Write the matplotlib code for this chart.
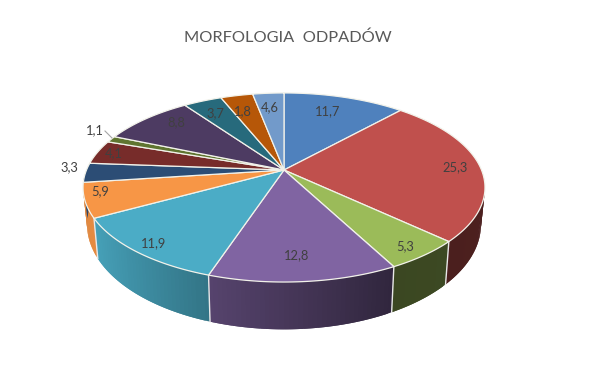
import numpy as np
import matplotlib
matplotlib.use('Agg')
import matplotlib.pyplot as plt

# Drawn shares of each slice, clockwise from 12 o'clock
VALUES = [11.7, 25.3, 5.3, 12.8, 11.9, 5.9, 3.3, 4.1, 1.1, 8.8, 3.7, 3.1, 3.0]
LABELS = ['11,7', '25,3', '5,3', '12,8', '11,9', '5,9', '3,3', '4,1', '1,1', '8,8', '3,7', '1,8', '4,6']
COLORS = ['#4F81BD', '#C0504D', '#9BBB59', '#8064A2', '#4BACC6', '#F79646', '#2C4D75',
          '#772C2A', '#5F7530', '#4D3B62', '#276A7C', '#B65708', '#729ACA']
TITLE = 'MORFOLOGIA  ODPADÓW'

# Label centres in pixels
LABEL_POS = [(328, 111), (455, 167), (405, 246), (297, 255), (154, 243), (100, 191), (69, 167),
             (114, 153), (95, 130), (176, 122), (215, 113), (243, 111), (270, 107)]

# Perspective ellipse settings
CX, CY = 284, 170
RX, RY = 197.5, 91.3
PERSP = 0.185
BOTTOM_SX, BOTTOM_SY, BOTTOM_DY = 0.98, 1.11, 35


def top_xy(theta):
    u, v = np.sin(theta), -np.cos(theta)
    w = 1 - PERSP * v
    return CX + RX * u / w, CY + RY * v / w


def bottom_xy(theta):
    x, y = top_xy(theta)
    return CX + BOTTOM_SX * (x - CX), CY + BOTTOM_DY + BOTTOM_SY * (y - CY)


def side_shade(color, theta):
    # darker towards the right hand side of the wall
    f = np.interp(np.sin(theta), [-1, -0.87, -0.3, 0.46, 1], [0.9, 0.93, 0.67, 0.38, 0.40])
    rgb = np.array(matplotlib.colors.to_rgb(color))
    return tuple(rgb * f)


fig = plt.figure(figsize=(6.08, 3.74), dpi=100)
ax = fig.add_axes([0, 0, 1, 1])
ax.set_xlim(0, 608)
ax.set_ylim(374, 0)
ax.axis('off')

total = sum(VALUES)
edges = np.concatenate([[0], np.cumsum(VALUES)]) / total * 2 * np.pi

# Side wall first, cut in thin strips for the gradient.
# Strips overlap the next one a bit so no seams show
for i, color in enumerate(COLORS):
    a0, a1 = edges[i], edges[i + 1]
    n = max(int((a1 - a0) / 0.02), 2)
    steps = np.linspace(a0, a1, n + 1)
    step = steps[1] - steps[0]
    for s0, s1 in zip(steps[:-1], steps[1:]):
        mid = (s0 + s1) / 2
        if np.cos(mid) > -0.1:
            continue
        end = min(s1 + step, a1)
        t = np.linspace(s0, end, 4)
        tx, ty = top_xy(t)
        bx, by = bottom_xy(t[::-1])
        ax.fill(np.r_[tx, bx], np.r_[ty, by], facecolor=side_shade(color, mid), edgecolor='none',
                zorder=1 + i * 0.01)

# White seams on the wall, none on the silhouette
for a in edges[:-1]:
    if np.cos(a) < -0.2:
        tx, ty = top_xy(a)
        bx, by = bottom_xy(a)
        ax.plot([tx, bx], [ty, by], color='#E8E8E8', lw=1.0, zorder=2)

# Top face
for i, color in enumerate(COLORS):
    t = np.linspace(edges[i], edges[i + 1], 80)
    x, y = top_xy(t)
    ax.fill(np.r_[CX, x], np.r_[CY, y], facecolor=color, edgecolor='#F2F2EA', lw=0.9, zorder=3)

# Leader line of the 1,1 label
ax.plot([105, 112], [131, 138], color='#A6A6A6', lw=0.8, zorder=4)

for text, (lx, ly) in zip(LABELS, LABEL_POS):
    ax.text(lx, ly, text, ha='center', va='center', fontsize=9.3, family='Lato', color='#404040', zorder=5)

ax.text(288, 38, TITLE, ha='center', va='center', fontsize=11.8, family='Lato', color='#595959')

fig.savefig('out.png', dpi=100)
